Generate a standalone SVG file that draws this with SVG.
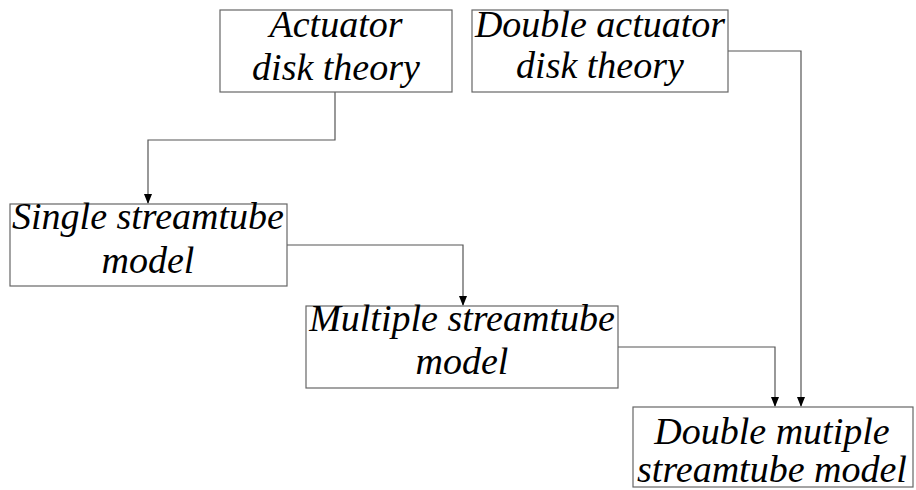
<svg xmlns="http://www.w3.org/2000/svg" width="916" height="490" viewBox="0 0 916 490">
<style>
.box{fill:#fff;stroke:#666;stroke-width:1.2}
.t{font-family:"Liberation Serif",serif;font-style:italic;font-size:38px;fill:#000;text-anchor:middle}
.c{fill:none;stroke:#555;stroke-width:1.2}
</style>
<rect width="916" height="490" fill="#fff"/>
<g id="connectors">
<path class="c" d="M335,92 V140 H148 V203"/>
<path class="c" d="M287,245 H463 V305"/>
<path class="c" d="M618,347 H775 V406"/>
<path class="c" d="M728,51 H801 V406"/>
<path d="M144,194 L152,194 L148,204 Z" fill="#000"/>
<path d="M459,296 L467,296 L463,306 Z" fill="#000"/>
<path d="M771,397 L779,397 L775,407 Z" fill="#000"/>
<path d="M797,397 L805,397 L801,407 Z" fill="#000"/>
</g>
<g id="actuator">
<rect class="box" x="220" y="10" width="232" height="82"/>
<text class="t" x="336" y="37">Actuator</text>
<text class="t" x="336" y="80">disk theory</text>
</g>
<g id="double-actuator">
<rect class="box" x="472" y="10" width="256" height="82"/>
<text class="t" x="600" y="37">Double actuator</text>
<text class="t" x="600" y="78">disk theory</text>
</g>
<g id="single">
<rect class="box" x="10" y="204" width="277" height="82"/>
<text class="t" x="148" y="229">Single streamtube</text>
<text class="t" x="148" y="273">model</text>
</g>
<g id="multiple">
<rect class="box" x="306" y="306" width="312" height="82"/>
<text class="t" x="462" y="331">Multiple streamtube</text>
<text class="t" x="462" y="374">model</text>
</g>
<g id="double-multiple">
<rect class="box" x="633" y="407" width="280" height="80"/>
<text class="t" x="772" y="444">Double mutiple</text>
<text class="t" x="772" y="482">streamtube model</text>
</g>
</svg>
